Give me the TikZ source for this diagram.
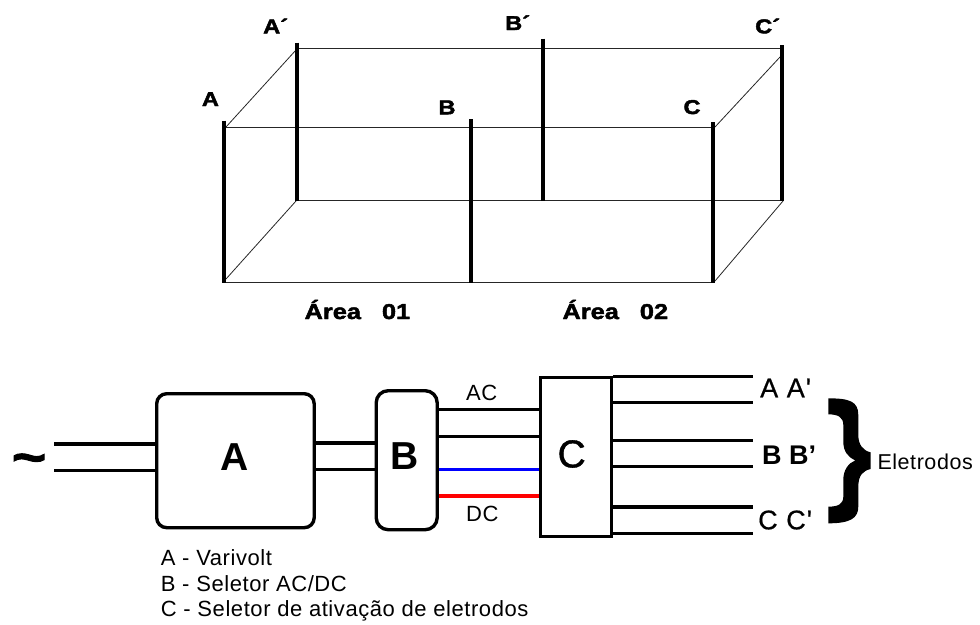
\documentclass[tikz,border=0pt]{standalone}
\usepackage{fontspec}
\setmainfont{Liberation Sans}
\newfontfamily\heavy[BoldFeatures={FakeBold=2.2,FakeStretch=1.18}]{Liberation Sans}
\newfontfamily\spaced[LetterSpace=2.6]{Liberation Sans}
\newfontfamily\medium[FakeBold=1]{Liberation Sans}
\newfontfamily\spacedbold[LetterSpace=4,FakeBold=.6]{Liberation Sans}
\newcommand{\qmark}{\symbol{39}}
\begin{document}
\begin{tikzpicture}[x=1pt,y=-1pt,
  pole/.style={line width=4pt,black},
  thinl/.style={line width=1.1pt,black!85},
  diag/.style={line width=.8pt,black!85},
  wire/.style={line width=3.3pt,black},
  txt/.style={inner sep=0pt,text=black},
  heavylab/.style={txt,anchor=base west,font=\heavy\bfseries\fontsize{20}{20}\selectfont},
  arealab/.style={txt,anchor=base,font=\heavy\bfseries\fontsize{21.5}{21.5}\selectfont},
  block/.style={draw=black,line width=3.4pt,fill=white,inner sep=0pt,anchor=north west},
  blocklab/.style={txt,font=\bfseries\fontsize{39}{39}\selectfont},
  smalltxt/.style={txt,anchor=base,font=\spaced\fontsize{22}{22}\selectfont},
  endlab/.style={txt,anchor=west,font=\spacedbold\fontsize{27}{27}\selectfont}]
\useasboundingbox (0,0) rectangle (980,624);
\fill[white] (0,0) rectangle (980,624);
% box corners
\coordinate (ft) at (224,127.3); \coordinate (fb) at (224,282.5);
\coordinate (bt) at (297,48.3);  \coordinate (bb) at (297,200.7);
\coordinate (gt) at (471,119);   \coordinate (gb) at (471,282.5);
\coordinate (ht) at (542.7,38.7);\coordinate (hb) at (542.7,200.7);
\coordinate (ct) at (713,127.3); \coordinate (cb) at (713,282.5);
\coordinate (dt) at (782,48.3);  \coordinate (db) at (782,200.7);
\coordinate (atop) at (224,120.7);
\coordinate (aptop) at (297,42.7);
\coordinate (ctop) at (713,122);
\coordinate (cptop) at (782,45);
\coordinate (d1) at (226,127); \coordinate (d2) at (296,50);
\coordinate (d3) at (226,279); \coordinate (d4) at (296,201);
\coordinate (d5) at (715,127); \coordinate (d6) at (780,57);
\coordinate (d7) at (715,281); \coordinate (d8) at (783,201);
\draw[thinl] (ft) -- (ct);
\draw[thinl] (fb) -- (cb);
\draw[thinl] (bt) -- (dt);
\draw[thinl] (bb) -- (db);
\draw[diag] (d1) -- (d2);
\draw[diag] (d3) -- (d4);
\draw[diag] (d5) -- (d6);
\draw[diag] (d7) -- (d8);
\draw[pole] (atop) -- (fb);
\draw[pole] (aptop) -- (bb);
\draw[pole] (gt) -- (gb);
\draw[pole] (ht) -- (hb);
\draw[pole] (ctop) -- (cb);
\draw[pole] (cptop) -- (db);
\node[heavylab] (la) at (201.7,106) {A};
\node[heavylab] (lap) at (263,33.3) {A´};
\node[heavylab] (lb) at (438.3,114.3) {B};
\node[heavylab] (lbp) at (505,30) {B´};
\node[heavylab] (lc) at (683.3,114) {C};
\node[heavylab] (lcp) at (755,33.3) {C´};
\node[arealab] (a1) at (357.4,319) {Área\hspace{21pt}01};
\node[arealab] (a2) at (615.3,319) {Área\hspace{21pt}02};
% blocks
\node[block,rounded corners=10pt,minimum width=157.5pt,minimum height=134pt] (A) at (155,392) {};
\node[block,rounded corners=12pt,minimum width=61pt,minimum height=139pt] (B) at (374.5,389) {};
\node[block,minimum width=71.5pt,minimum height=159pt] (C) at (538.5,375.5) {};
\node[blocklab] (ta) at (235,457) {A};
\node[blocklab] (tb) at (404.3,456) {B};
\node[blocklab,font=\medium\fontsize{39}{39}\selectfont] (tc) at (571.7,454) {C};
% wires
\coordinate (s1) at (54.3,444); \coordinate (s2) at (54.3,470.7);
\coordinate (r1) at (753,376.3); \coordinate (r2) at (753,402.7);
\coordinate (r3) at (753,440.3); \coordinate (r4) at (753,466.7);
\coordinate (r5) at (753,507);   \coordinate (r6) at (753,533.3);
\draw[wire] (s1) -- (s1 -| A.west);
\draw[wire] (s2) -- (s2 -| A.west);
\draw[wire] (A.east |- 0,443) -- (B.west |- 0,443);
\draw[wire] (A.east |- 0,469.3) -- (B.west |- 0,469.3);
\draw[wire] (B.east |- 0,409.7) -- (C.west |- 0,409.7);
\draw[wire] (B.east |- 0,436.3) -- (C.west |- 0,436.3);
\draw[wire,blue] (B.east |- 0,469.3) -- (C.west |- 0,469.3);
\draw[wire,red] (B.east |- 0,496) -- (C.west |- 0,496);
\draw[wire] (C.east |- r1) -- (r1);
\draw[wire] (C.east |- r2) -- (r2);
\draw[wire] (C.east |- r3) -- (r3);
\draw[wire] (C.east |- r4) -- (r4);
\draw[wire] (C.east |- r5) -- (r5);
\draw[wire] (C.east |- r6) -- (r6);
% texts
\node[txt,font=\heavy\bfseries\fontsize{50}{50}\selectfont] (tilde) at (29,464) {\textasciitilde};
\node[smalltxt] (ac) at (481.7,400.7) {AC};
\node[smalltxt] (dc) at (482.3,521.7) {DC};
\node[endlab] (ra) at (760,388) {A A\qmark};
\node[endlab,font=\bfseries\fontsize{27}{27}\selectfont] (rb) at (762,455) {B B\qmark};
\node[endlab] (rc) at (758,520) {C C\qmark};
\node[smalltxt,anchor=base west,font=\spaced\fontsize{21.5}{21.5}\selectfont] (el) at (877.3,469) {Eletrodos};
\node[smalltxt,anchor=base west] (l1) at (160.7,565) {A - Varivolt};
\node[smalltxt,anchor=base west] (l2) at (160.7,591) {B - Seletor AC/DC};
\node[smalltxt,anchor=base west] (l3) at (160.7,616.7) {C - Seletor de ativação de eletrodos};
% brace
\begin{scope}[shift={(520,360)},x=.3333pt,y=-.3333pt]
\fill[black] (925,115) .. controls (990,115) and (1015,125) .. (1015,165) -- (1015,225)
  .. controls (1015,255) and (1030,272) .. (1052,277) -- (1052,327)
  .. controls (1030,332) and (1015,345) .. (1015,380) -- (1015,440)
  .. controls (1015,475) and (990,490) .. (925,490) -- (925,440)
  .. controls (955,440) and (970,432) .. (970,410) -- (970,360)
  .. controls (970,330) and (985,310) .. (1006,301)
  .. controls (985,292) and (970,275) .. (970,245) -- (970,195)
  .. controls (970,172) and (955,163) .. (925,163) -- cycle;
\end{scope}
\end{tikzpicture}
\end{document}
